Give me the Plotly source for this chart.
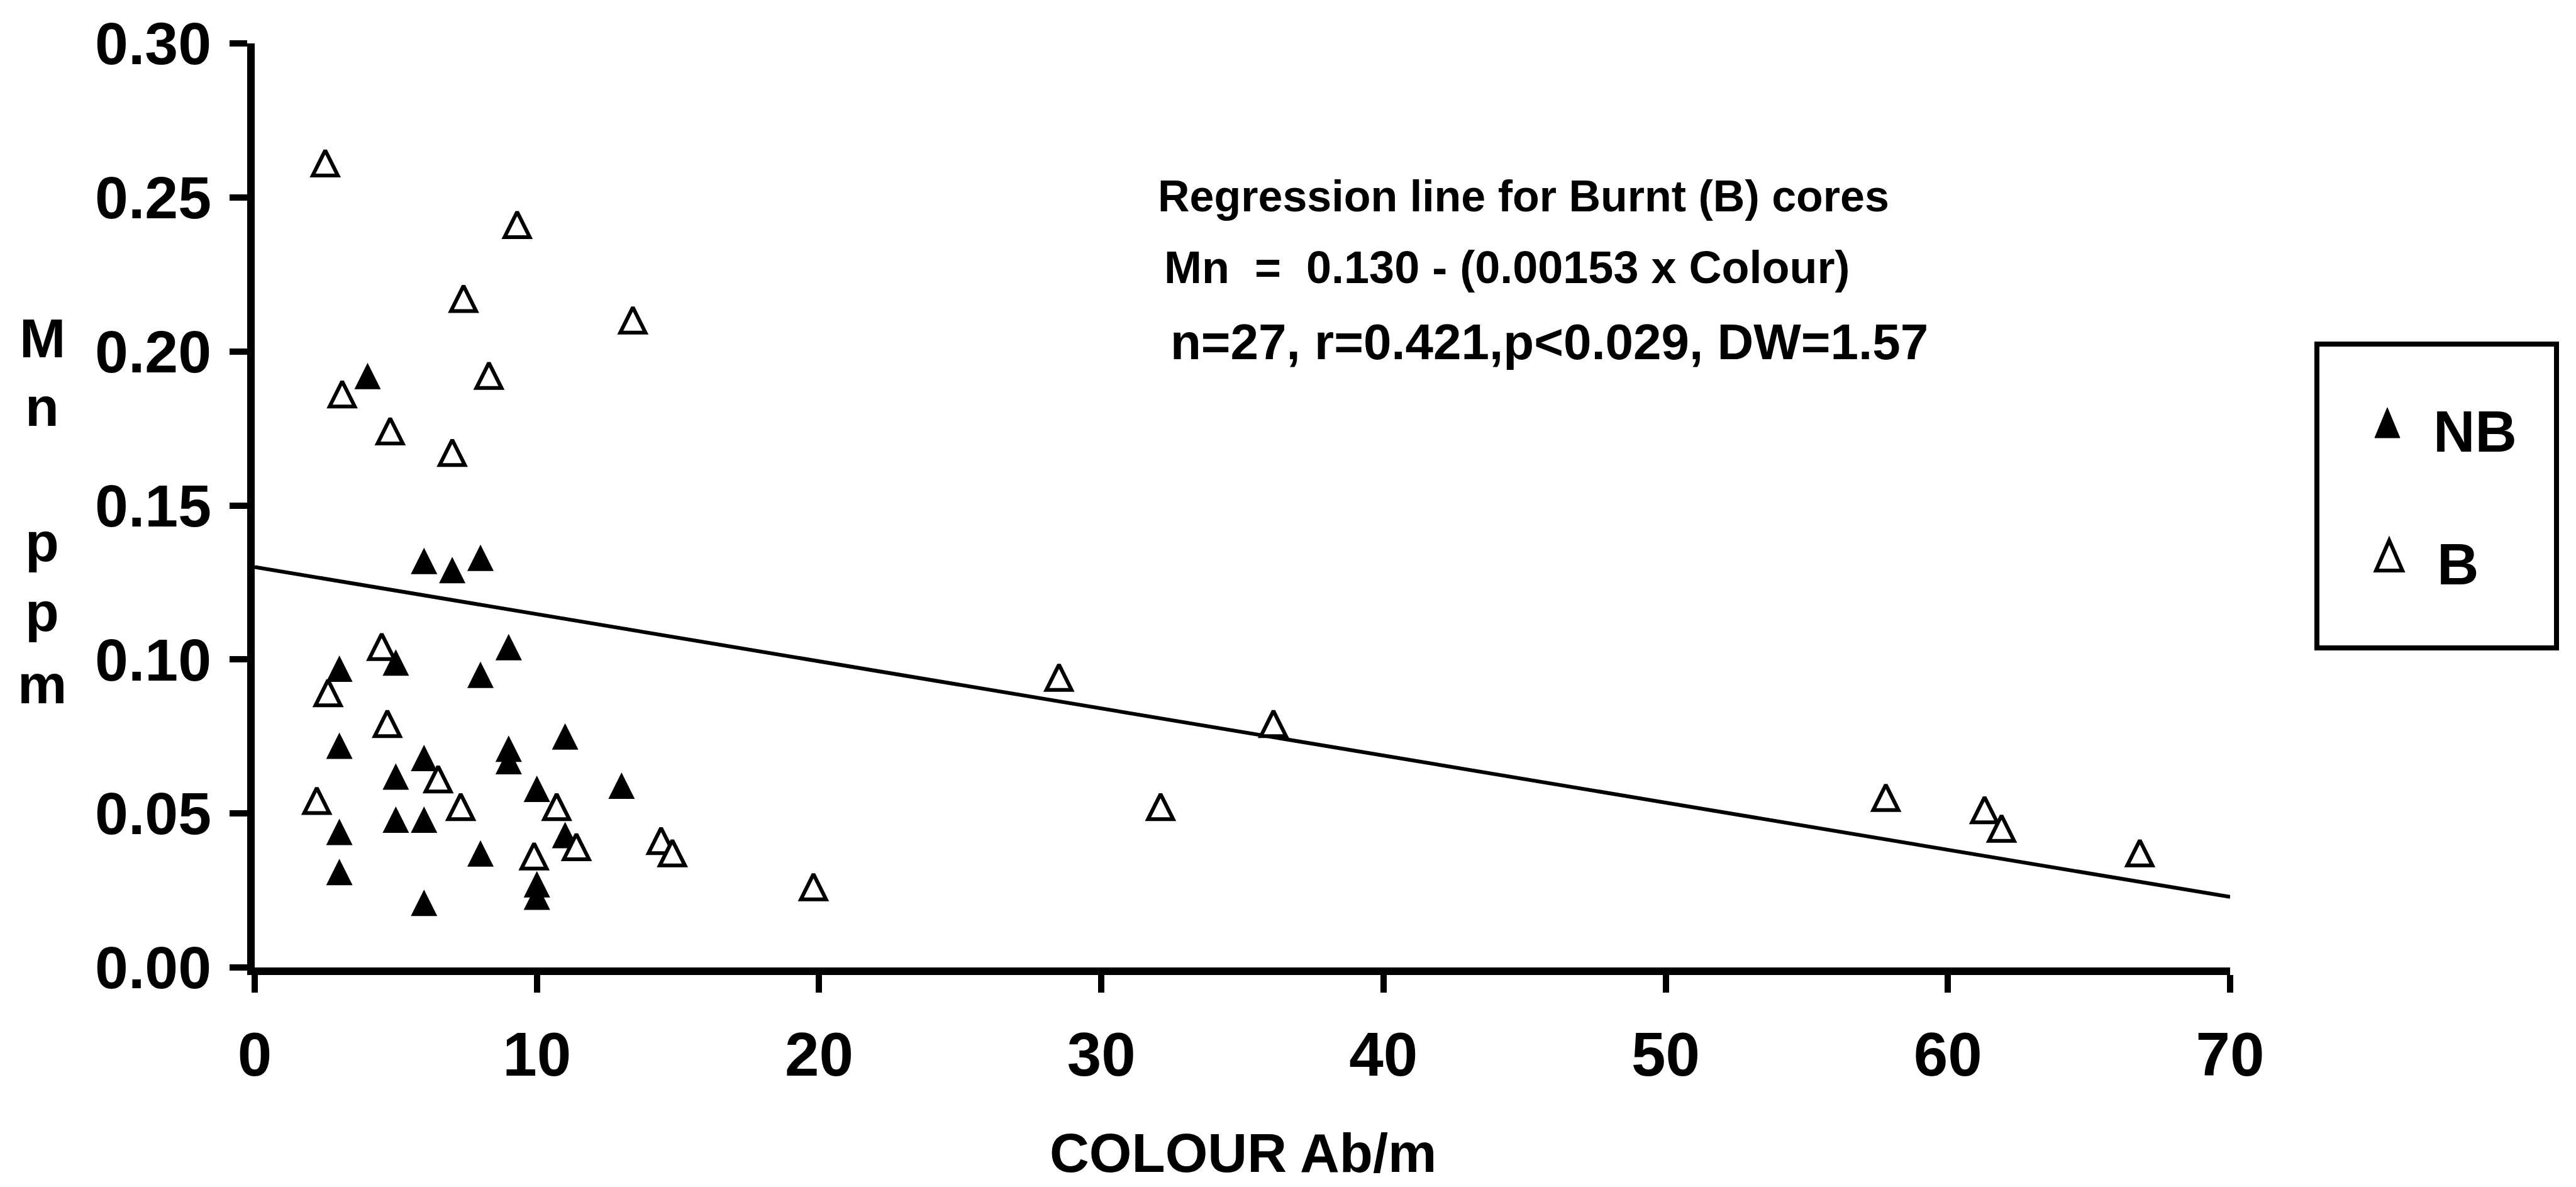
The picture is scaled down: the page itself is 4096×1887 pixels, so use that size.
import plotly.graph_objects as go

# ---------------- data ----------------
# Non-burnt (NB) cores: colour (Ab/m) against Mn (ppm)
nb_colour = [4, 6, 7, 8, 3, 5, 8, 9, 3, 6, 5, 9, 9, 11, 10, 13, 5, 6, 3, 3, 8, 11, 6, 10, 10]
nb_mn = [0.192, 0.132, 0.129, 0.133, 0.097, 0.099, 0.095, 0.104, 0.072, 0.068, 0.062, 0.071,
         0.067, 0.075, 0.058, 0.059, 0.048, 0.048, 0.044, 0.031, 0.037, 0.043, 0.021, 0.027, 0.023]

# Burnt (B) cores
b_colour = [2.5, 9.3, 7.4, 13.4, 8.3, 3.1, 4.8, 7.0, 4.5, 2.6, 4.7, 6.5, 2.2, 7.3, 10.7, 11.4,
            9.9, 14.4, 14.8, 19.8, 28.5, 32.1, 36.1, 57.8, 61.3, 61.9, 66.8]
b_mn = [0.261, 0.241, 0.217, 0.210, 0.192, 0.186, 0.174, 0.167, 0.104, 0.089, 0.079, 0.061,
        0.054, 0.052, 0.052, 0.039, 0.036, 0.041, 0.037, 0.026, 0.094, 0.052, 0.079, 0.055,
        0.051, 0.045, 0.037]

# Regression for burnt cores: Mn = 0.130 - 0.00153 * Colour
reg_intercept = 0.130
reg_slope = 0.00153
reg_colour = [0, 70]
reg_mn = [reg_intercept - reg_slope * c for c in reg_colour]

x_ticks = [0, 10, 20, 30, 40, 50, 60, 70]
y_ticks = [0.00, 0.05, 0.10, 0.15, 0.20, 0.25, 0.30]

# ---------------- geometry ----------------
W, H = 4096, 1887
M_L, M_R, M_T, M_B = 405, 550, 69, 349
PW = W - M_L - M_R
PH = H - M_T - M_B


def px_x(px):
    return (px - M_L) / PW


def px_y(py):
    return (H - M_B - py) / PH


FONT = "Liberation Sans, Arial, Helvetica, sans-serif"
NARROW = "Liberation Sans Narrow, Liberation Sans, Arial, sans-serif"
MARK = 42

fig = go.Figure()

fig.add_trace(go.Scatter(
    x=reg_colour, y=reg_mn, mode="lines",
    line=dict(color="black", width=6), showlegend=False, hoverinfo="skip",
))

# upward triangles centred on each point (arrow turned round and pulled back by half its height)
fig.add_trace(go.Scatter(
    x=nb_colour, y=nb_mn, mode="markers", name="NB",
    marker=dict(symbol="arrow-down", angle=180, standoff=MARK / 2, size=MARK,
                color="black", line=dict(width=0)),
    showlegend=False, cliponaxis=False,
))
fig.add_trace(go.Scatter(
    x=b_colour, y=b_mn, mode="markers", name="B",
    marker=dict(symbol="arrow-down", angle=180, standoff=MARK / 2, size=MARK - 2,
                color="white", line=dict(color="black", width=6)),
    showlegend=False, cliponaxis=False,
))

axis_common = dict(showgrid=False, zeroline=False, showline=True, linecolor="black",
                   linewidth=12, ticks="outside", ticklen=28, tickwidth=10, tickcolor="black")

fig.update_layout(
    width=W, height=H, autosize=False,
    margin=dict(l=M_L, r=M_R, t=M_T, b=M_B, pad=0),
    paper_bgcolor="white", plot_bgcolor="white",
    showlegend=False,
    xaxis=dict(range=[0, 70], tickvals=x_ticks, **axis_common,
               tickfont=dict(family=FONT, size=98, color="black", weight="bold"),
               ticklabelstandoff=14),
    yaxis=dict(range=[0, 0.30], tickvals=y_ticks, tickformat=".2f", **axis_common,
               tickfont=dict(family=FONT, size=95, color="black", weight="bold"),
               ticklabelstandoff=10),
    # inner halves of the cross-shaped ticks
    xaxis2=dict(overlaying="x", anchor="y", side="bottom", range=[0, 70], tickvals=x_ticks,
                ticks="inside", ticklen=28, tickwidth=10, tickcolor="black",
                showticklabels=False, showline=False, showgrid=False, zeroline=False),
    yaxis2=dict(overlaying="y", anchor="x", side="left", range=[0, 0.30], tickvals=y_ticks,
                ticks="inside", ticklen=28, tickwidth=10, tickcolor="black",
                showticklabels=False, showline=False, showgrid=False, zeroline=False),
)

ann = []


def text(x, y, s, size, xanchor="left", family=FONT):
    ann.append(dict(x=px_x(x), y=px_y(y), xref="paper", yref="paper", text=s,
                    showarrow=False, xanchor=xanchor, yanchor="middle",
                    font=dict(family=family, size=size, color="black", weight="bold")))


# regression annotation
text(1839, 312, "Regression line for Burnt (B) cores", 70)
text(1849, 425, "Mn\u00a0 =\u00a0 0.130 - (0.00153 x Colour)", 72)
text(1859, 543, "n=27, r=0.421,p&lt;0.029, DW=1.57", 80)

# stacked y-axis title
for ch, yy in [("M", 537), ("n", 646), ("p", 862), ("p", 972), ("m", 1087)]:
    text(67, yy, ch, 88, xanchor="center")

# x-axis title
text(1977, 1832, "COLOUR Ab/m", 87, xanchor="center")

# legend labels
text(3936, 686, "NB", 92, xanchor="center", family=NARROW)
text(3908, 897, "B", 92, xanchor="center", family=NARROW)

fig.update_layout(annotations=ann)

# legend frame and keys
fig.update_layout(shapes=[
    dict(type="rect", xref="paper", yref="paper",
         x0=px_x(3684), x1=px_x(4065), y0=px_y(1030), y1=px_y(547),
         line=dict(color="black", width=8), fillcolor="rgba(0,0,0,0)"),
    dict(type="path", xref="paper", yref="paper", xsizemode="pixel", ysizemode="pixel",
         xanchor=px_x(3796), yanchor=px_y(672), path="M -20,-24 L 20,-24 L 0,24 Z",
         fillcolor="black", line=dict(color="black", width=1)),
    dict(type="path", xref="paper", yref="paper", xsizemode="pixel", ysizemode="pixel",
         xanchor=px_x(3799), yanchor=px_y(883), path="M -21,-24 L 21,-24 L 0,24 Z",
         fillcolor="white", line=dict(color="black", width=6)),
])

fig.write_html("out.html")
